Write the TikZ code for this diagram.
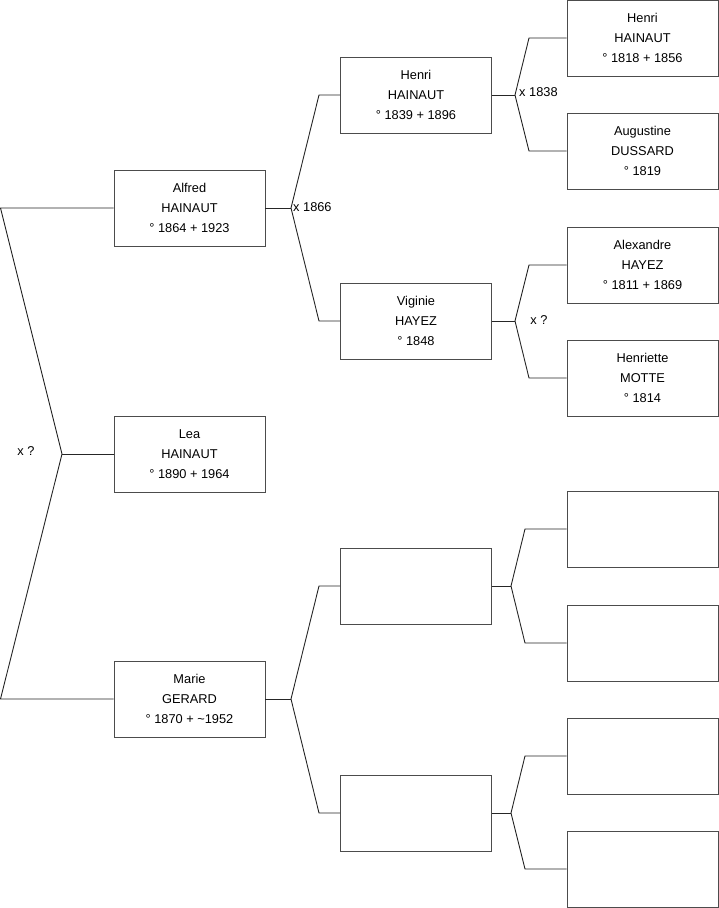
\documentclass[tikz,border=0pt]{standalone}
\usepackage{fontspec}
\setmainfont{Liberation Sans}
\begin{document}
\begin{tikzpicture}[x=1pt,y=-1pt,
  person/.style={draw=black!70,line width=0.9pt,minimum width=151pt,minimum height=76pt,inner sep=0pt,align=center,font=\fontsize{12.8}{20}\selectfont},
  link/.style={draw=black!85,line width=0.9pt},
  lbl/.style={inner sep=0pt,font=\fontsize{12.8}{15}\selectfont}]
\useasboundingbox (0,0) rectangle (719,908);
% generation 1
\node[person] (lea) at (189.5,454) {Lea\\HAINAUT\\° 1890 + 1964};
\node[person] (alfred) at (189.5,208) {Alfred\\HAINAUT\\° 1864 + 1923};
\node[person] (marie) at (189.5,699) {Marie\\GERARD\\° 1870 + \textasciitilde1952};
% generation 2
\node[person] (henri2) at (416,95) {Henri\\HAINAUT\\° 1839 + 1896};
\node[person] (viginie) at (416,321) {Viginie\\HAYEZ\\° 1848};
\node[person] (e1) at (416,586) {};
\node[person] (e2) at (416,813) {};
% generation 3
\node[person] (henri3) at (642.5,38) {Henri\\HAINAUT\\° 1818 + 1856};
\node[person] (augustine) at (642.5,151) {Augustine\\DUSSARD\\° 1819};
\node[person] (alexandre) at (642.5,265) {Alexandre\\HAYEZ\\° 1811 + 1869};
\node[person] (henriette) at (642.5,378) {Henriette\\MOTTE\\° 1814};
\node[person] (e3) at (642.5,529) {};
\node[person] (e4) at (642.5,643) {};
\node[person] (e5) at (642.5,756) {};
\node[person] (e6) at (642.5,869) {};
% junctions and bends
\coordinate (j0) at (62,454);
\coordinate (b0a) at (0.5,208);
\coordinate (b0b) at (0.5,699);
\coordinate (j1) at (291,208);
\coordinate (b1a) at (319,95);
\coordinate (b1b) at (319,321);
\coordinate (j2) at (515,95);
\coordinate (b2a) at (529,38);
\coordinate (b2b) at (529,151);
\coordinate (j3) at (515,321);
\coordinate (b3a) at (529,265);
\coordinate (b3b) at (529,378);
\coordinate (j4) at (291,699);
\coordinate (b4a) at (319,586);
\coordinate (b4b) at (319,813);
\coordinate (j5) at (511,586);
\coordinate (b5a) at (525,529);
\coordinate (b5b) at (525,643);
\coordinate (j6) at (511,813);
\coordinate (b6a) at (525,756);
\coordinate (b6b) at (525,869);
% connectors
\draw[link] (lea.west) -- (j0);
\draw[link] (j0) -- (b0a) -- (alfred.west);
\draw[link] (j0) -- (b0b) -- (marie.west);
\draw[link] (alfred.east) -- (j1);
\draw[link] (j1) -- (b1a) -- (henri2.west);
\draw[link] (j1) -- (b1b) -- (viginie.west);
\draw[link] (henri2.east) -- (j2);
\draw[link] (j2) -- (b2a) -- (henri3.west);
\draw[link] (j2) -- (b2b) -- (augustine.west);
\draw[link] (viginie.east) -- (j3);
\draw[link] (j3) -- (b3a) -- (alexandre.west);
\draw[link] (j3) -- (b3b) -- (henriette.west);
\draw[link] (marie.east) -- (j4);
\draw[link] (j4) -- (b4a) -- (e1.west);
\draw[link] (j4) -- (b4b) -- (e2.west);
\draw[link] (e1.east) -- (j5);
\draw[link] (j5) -- (b5a) -- (e3.west);
\draw[link] (j5) -- (b5b) -- (e4.west);
\draw[link] (e2.east) -- (j6);
\draw[link] (j6) -- (b6a) -- (e5.west);
\draw[link] (j6) -- (b6b) -- (e6.west);
% marriage labels
\node[lbl] (m0) at (26,451) {x ?};
\node[lbl,anchor=west] (m1) at (293,207) {x 1866};
\node[lbl,anchor=west] (m2) at (519,92) {x 1838};
\node[lbl] (m3) at (539,320) {x ?};
\end{tikzpicture}
\end{document}
